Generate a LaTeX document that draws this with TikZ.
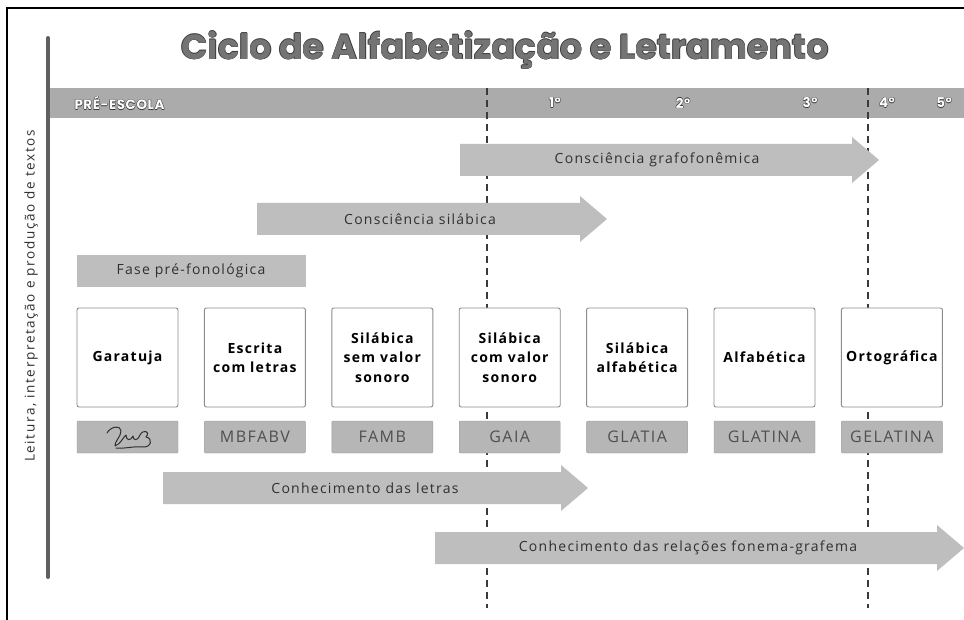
\documentclass[tikz,border=0pt]{standalone}
\usepackage{fontspec}
\setmainfont{Open Sans}
\newfontfamily\titlefont{Poppins}
\newfontfamily\yearfont{Poppins}[LetterSpace=4]
\newfontfamily\trackfont{Open Sans}[LetterSpace=9]
\newfontfamily\widefont{Open Sans}[LetterSpace=12]
\definecolor{bargray}{HTML}{ABABAB}
\definecolor{arrowgray}{HTML}{BEBEBE}
\definecolor{taggray}{HTML}{B6B6B6}
\definecolor{linegray}{HTML}{8C8C8C}
\definecolor{inkgray}{HTML}{303030}
\definecolor{titlegray}{HTML}{747474}
\definecolor{titledark}{HTML}{3A3A3A}
% text with a thin dark rim: #1 rim, #2 fill, #3 text
\newcommand{\rimtext}[3]{\leavevmode
  \rlap{\kern-.5pt\textcolor{#1}{#3}}%
  \rlap{\kern.5pt\textcolor{#1}{#3}}%
  \rlap{\raisebox{.5pt}{\textcolor{#1}{#3}}}%
  \rlap{\raisebox{-.5pt}{\textcolor{#1}{#3}}}%
  \textcolor{#2}{#3}}
% grey arrow: #1 start, #2 head start, #3 tip, #4 middle y
\newcommand{\phasearrow}[4]{%
  \fill[arrowgray] (#1,#4-16) -- (#2,#4-16) -- (#2,#4-23) -- (#3,#4)
    -- (#2,#4+23) -- (#2,#4+16) -- (#1,#4+16) -- cycle;}
\begin{document}
\begin{tikzpicture}[x=1pt,y=-1pt,
    stagebox/.style = {shape = rectangle,
                       draw = linegray,
                       fill = white,
                       rounded corners = 2pt,
                       line width = 0.9pt,
                       minimum width = 101pt,
                       minimum height = 99pt,
                       inner sep = 1pt,
                       align = center,
                       text = black,
                       font = \trackfont\bfseries\fontsize{14}{19.5}\selectfont},
    wordtag/.style = {shape = rectangle,
                      fill = taggray,
                      draw = taggray!85!black,
                      rounded corners = 1pt,
                      minimum width = 101pt,
                      minimum height = 32pt,
                      text = inkgray!85,
                      font = \trackfont\fontsize{16}{16}\selectfont},
    arrowlabel/.style = {text = inkgray,
                         font = \trackfont\fontsize{14}{14}\selectfont},
    yearlabel/.style = {font = \yearfont\bfseries\fontsize{13.5}{14}\selectfont}]
  \useasboundingbox (0,0) rectangle (964,620);
  \fill[white] (0,0) rectangle (964,620);

  % frame and side bar
  \draw[line width=1.3pt] (7,620) -- (7,8) -- (964,8);
  \draw[line width=4pt, gray!75!black, line cap=round] (48,38) -- (48,577);
  \node[rotate=90, text=inkgray, font=\widefont\fontsize{13.5}{14}\selectfont] (side) at (31,296)
    {Leitura, interpretação e produção de textos};

  % title
  \node[font=\titlefont\bfseries\fontsize{35}{35}\selectfont] (title) at (505,50)
    {\rimtext{titledark}{titlegray}{Ciclo de Alfabetização e Letramento}};

  % school years
  \node[fill=bargray, minimum width=914pt, minimum height=30pt, inner sep=0pt] (years) at (507,103) {};
  \node[yearlabel, anchor=west] (pre) at (71,103) {\rimtext{titledark}{white}{PRÉ-ESCOLA}};
  \node[yearlabel] (y1) at (555,103) {\rimtext{titledark}{white}{1º}};
  \node[yearlabel] (y2) at (683,103) {\rimtext{titledark}{white}{2º}};
  \node[yearlabel] (y3) at (810,103) {\rimtext{titledark}{white}{3º}};
  \node[yearlabel] (y4) at (887,103) {\rimtext{titledark}{white}{4º}};
  \node[yearlabel] (y5) at (944,103) {\rimtext{titledark}{white}{5º}};

  \draw[line width=1.5pt, dash pattern=on 7pt off 5pt, titledark] (487,88) -- (487,608);
  \draw[line width=1.5pt, dash pattern=on 7pt off 5pt, titledark] (868,88) -- (868,608);

  % arrows
  \phasearrow{460}{852}{879}{160}
  \node[arrowlabel] (grafo) at (657,160) {Consciência grafofonêmica};
  \phasearrow{257}{580}{607}{219}
  \node[arrowlabel] (silab) at (420,219) {Consciência silábica};
  \node[fill=arrowgray, minimum width=229pt, minimum height=32pt, inner sep=0pt] (prefono) at (191,271) {};
  \node[arrowlabel] at (prefono) {Fase pré-fonológica};

  % stages
  \node[stagebox] (garatuja) at (127.5,357.5) {Garatuja};
  \node[stagebox] (escrita) at (254.9,357.5) {Escrita\\com letras};
  \node[stagebox] (semvalor) at (382.3,357.5) {Silábica\\sem valor\\sonoro};
  \node[stagebox] (comvalor) at (509.7,357.5) {Silábica\\com valor\\sonoro};
  \node[stagebox] (silalfa) at (637.1,357.5) {Silábica\\alfabética};
  \node[stagebox] (alfa) at (764.5,357.5) {Alfabética};
  \node[stagebox] (orto) at (891.9,357.5) {Ortográfica};

  % sample writings
  \node[wordtag] (w1) at (127.5,437) {};
  \draw[line width=1pt, inkgray, line cap=round, line join=round]
    (107,433) .. controls (111,426) and (121,425) .. (121,431)
    .. controls (121,437) and (114,442) .. (115,446)
    .. controls (121,444) and (123,437) .. (126,435)
    .. controls (126,441) and (131,441) .. (133,436)
    .. controls (133,441) and (138,441) .. (140,435)
    .. controls (143,429) and (151,431) .. (146,437)
    .. controls (153,438) and (152,448) .. (142,447)
    .. controls (134,446) and (124,449) .. (116,448);
  \node[wordtag] (w2) at (254.9,437) {MBFABV};
  \node[wordtag] (w3) at (382.3,437) {FAMB};
  \node[wordtag] (w4) at (509.7,437) {GAIA};
  \node[wordtag] (w5) at (637.1,437) {GLATIA};
  \node[wordtag] (w6) at (764.5,437) {GLATINA};
  \node[wordtag] (w7) at (891.9,437) {GELATINA};

  % lower arrows
  \phasearrow{163}{561}{588}{488}
  \node[arrowlabel] (letras) at (365,488) {Conhecimento das letras};
  \phasearrow{435}{937}{964}{548}
  \node[arrowlabel] (fonema) at (688,548) {Conhecimento das relações fonema-grafema};
\end{tikzpicture}
\end{document}
